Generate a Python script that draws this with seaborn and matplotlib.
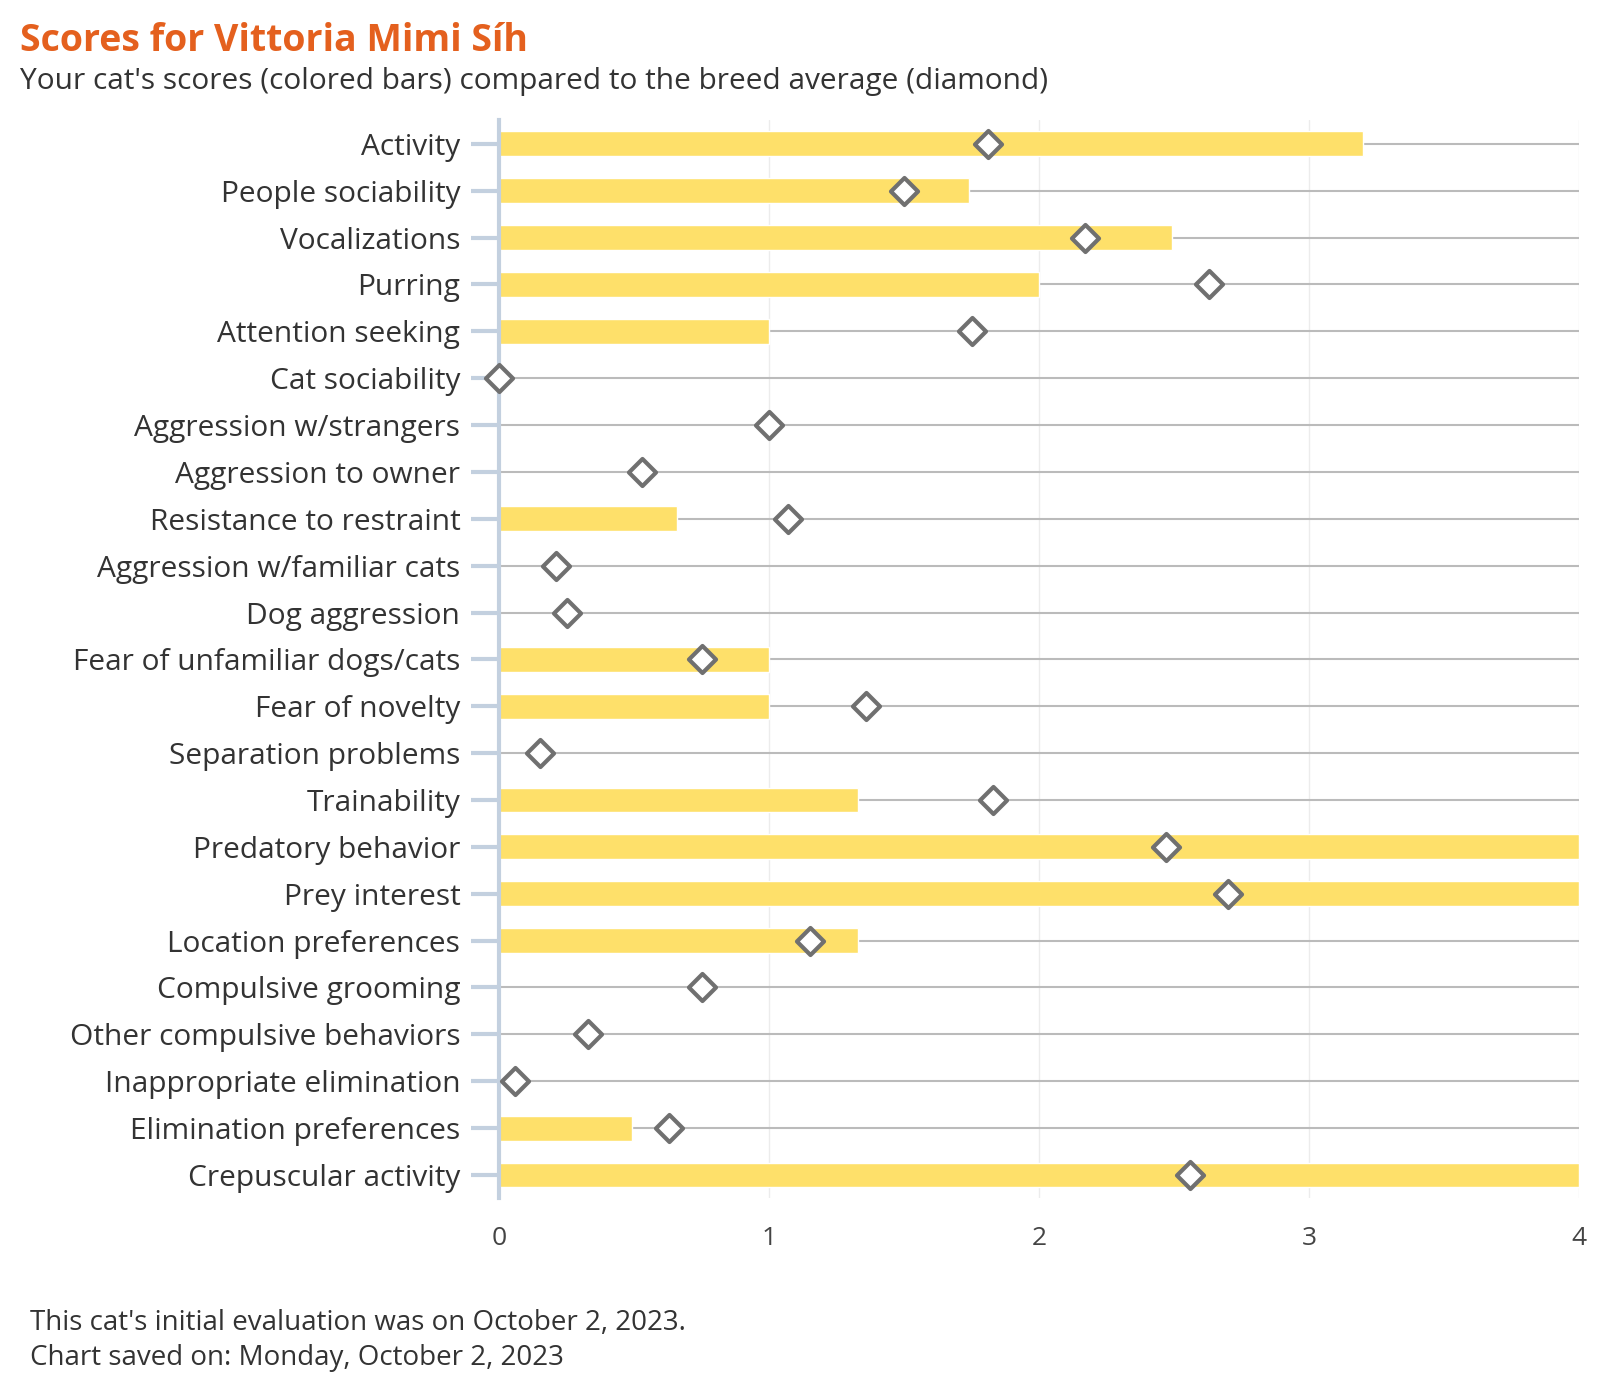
import pandas as pd
import matplotlib.pyplot as plt
import seaborn as sns

traits = ['Activity', 'People sociability', 'Vocalizations', 'Purring', 'Attention seeking',
          'Cat sociability', 'Aggression w/strangers', 'Aggression to owner',
          'Resistance to restraint', 'Aggression w/familiar cats', 'Dog aggression',
          'Fear of unfamiliar dogs/cats', 'Fear of novelty', 'Separation problems',
          'Trainability', 'Predatory behavior', 'Prey interest', 'Location preferences',
          'Compulsive grooming', 'Other compulsive behaviors', 'Inappropriate elimination',
          'Elimination preferences', 'Crepuscular activity']
cat_score = [3.2, 1.74, 2.49, 2.0, 1.0, 0, 0, 0, 0.66, 0, 0, 1.0, 1.0, 0, 1.33, 4.0, 4.0,
             1.33, 0, 0, 0, 0.49, 4.0]
breed_avg = [1.81, 1.5, 2.17, 2.63, 1.75, 0.0, 1.0, 0.53, 1.07, 0.21, 0.25, 0.75, 1.36, 0.15,
             1.83, 2.47, 2.7, 1.15, 0.75, 0.33, 0.06, 0.63, 2.56]

df = pd.DataFrame({'trait': traits, 'score': cat_score, 'avg': breed_avg})

sns.set_style('white')
plt.rcParams['font.family'] = ['Open Sans', 'DejaVu Sans']

fig = plt.figure(figsize=(16, 14), dpi=100)
ax = fig.add_axes([0.312, 0.144, 0.675, 0.770])

sns.barplot(df, x='score', y='trait', color='#fee06a', saturation=1, width=0.53, ax=ax)
sns.scatterplot(df, x='avg', y='trait', marker='D', s=190, color='white',
                edgecolor='#707070', linewidth=3, zorder=5, clip_on=False, ax=ax)

ax.set_xlim(0, 4)
ax.set_ylim(len(traits) - 0.5, -0.5)
ax.set_xticks([0, 1, 2, 3, 4])
ax.set_axisbelow(True)
ax.xaxis.grid(True, color='#ececec', linewidth=1)
ax.yaxis.grid(True, color='#bbbbbb', linewidth=1.5)
for s in ['top', 'right', 'bottom']:
    ax.spines[s].set_visible(False)
ax.spines['left'].set_color('#c3d0df')
ax.spines['left'].set_linewidth(3)
ax.tick_params(axis='y', length=20, width=3, color='#c3d0df', labelsize=21.5,
               labelcolor='#333333', pad=8, left=True)
ax.tick_params(axis='x', length=0, labelsize=19, labelcolor='#444444', pad=20)
ax.set_xlabel('')
ax.set_ylabel('')

fig.text(0.0125, 0.971, 'Scores for Vittoria Mimi Síh', fontsize=27, fontweight='bold',
         color='#e4601e', va='center')
fig.text(0.0125, 0.942, "Your cat's scores (colored bars) compared to the breed average (diamond)",
         fontsize=21.5, color='#333333', va='center')
fig.text(0.019, 0.055, "This cat's initial evaluation was on October 2, 2023.",
         fontsize=20, color='#333333', va='center')
fig.text(0.019, 0.030, 'Chart saved on: Monday, October 2, 2023',
         fontsize=20, color='#333333', va='center')

fig.savefig('out.png', dpi=100)
